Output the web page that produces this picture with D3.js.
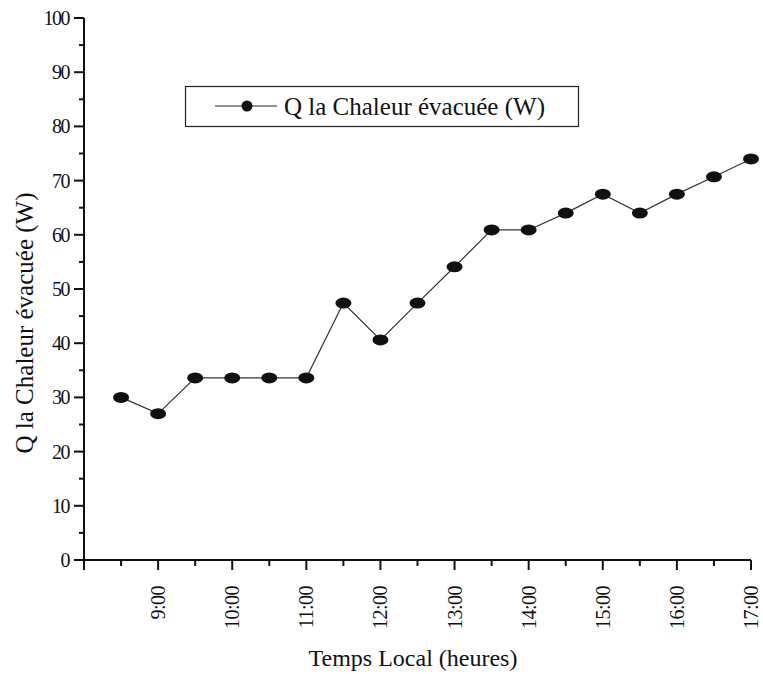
<!DOCTYPE html>
<html>
<head>
<meta charset="utf-8">
<script src="https://cdn.jsdelivr.net/npm/d3@7"></script>
<style>
  body { margin: 0; background: #fff; }
  text { font-family: "Times New Roman", "Liberation Serif", "DejaVu Serif", serif; fill: #111; }
</style>
</head>
<body>
<svg id="chart" width="763" height="674"></svg>
<script>
// hours (decimal) and heat values
var hours = [8.5, 9, 9.5, 10, 10.5, 11, 11.5, 12, 12.5, 13, 13.5, 14, 14.5, 15, 15.5, 16, 16.5, 17];
var chaleur = [30, 27, 33.6, 33.6, 33.6, 33.6, 47.4, 40.6, 47.4, 54.1, 60.9, 60.9, 64, 67.5, 64, 67.5, 70.7, 74];
var xTicks = [9, 10, 11, 12, 13, 14, 15, 16, 17];
var xLabels = ["9:00", "10:00", "11:00", "12:00", "13:00", "14:00", "15:00", "16:00", "17:00"];
var yTicks = [0, 10, 20, 30, 40, 50, 60, 70, 80, 90, 100];
var legendLabel = "Q la Chaleur évacuée (W)";

var svg = d3.select("#chart");

var x = d3.scaleLinear().domain([8, 17]).range([84, 751]);
var y = d3.scaleLinear().domain([0, 100]).range([560, 18]);

// y axis
var yAxis = svg.append("g").attr("transform", "translate(84,0)");
yAxis.append("line")
  .attr("x1", 0).attr("x2", 0)
  .attr("y1", y(100)).attr("y2", y(0))
  .attr("stroke", "#111").attr("stroke-width", 2);
yAxis.selectAll(".major")
  .data(yTicks).enter().append("line")
  .attr("x1", -10).attr("x2", 0)
  .attr("y1", d => y(d)).attr("y2", d => y(d))
  .attr("stroke", "#111").attr("stroke-width", 2);
yAxis.selectAll(".minor")
  .data(d3.range(5, 100, 10)).enter().append("line")
  .attr("x1", -5).attr("x2", 0)
  .attr("y1", d => y(d)).attr("y2", d => y(d))
  .attr("stroke", "#111").attr("stroke-width", 2);
yAxis.selectAll("text")
  .data(yTicks).enter().append("text")
  .attr("x", -15).attr("y", d => y(d))
  .attr("dy", "0.35em")
  .attr("text-anchor", "end")
  .attr("font-size", 20)
  .attr("letter-spacing", -1.5)
  .text(d => d);

// x axis
var xAxis = svg.append("g").attr("transform", "translate(0,560)");
xAxis.append("line")
  .attr("x1", x(8)).attr("x2", x(17))
  .attr("y1", 0).attr("y2", 0)
  .attr("stroke", "#111").attr("stroke-width", 2);
xAxis.selectAll(".major")
  .data([8].concat(xTicks)).enter().append("line")
  .attr("x1", d => x(d)).attr("x2", d => x(d))
  .attr("y1", 0).attr("y2", 10)
  .attr("stroke", "#111").attr("stroke-width", 2);
xAxis.selectAll(".minor")
  .data(d3.range(8.5, 17, 1)).enter().append("line")
  .attr("x1", d => x(d)).attr("x2", d => x(d))
  .attr("y1", 0).attr("y2", 6)
  .attr("stroke", "#111").attr("stroke-width", 2);
xAxis.selectAll("text")
  .data(xTicks).enter().append("text")
  .attr("transform", d => "translate(" + x(d) + ",26) rotate(-90)")
  .attr("dy", "0.35em")
  .attr("text-anchor", "end")
  .attr("font-size", 20)
  .attr("letter-spacing", -0.5)
  .text((d, i) => xLabels[i]);

// titles
svg.append("text")
  .attr("transform", "translate(33,323) rotate(-90)")
  .attr("text-anchor", "middle")
  .attr("font-size", 25)
  .text(legendLabel);
svg.append("text")
  .attr("x", 413).attr("y", 666)
  .attr("text-anchor", "middle")
  .attr("font-size", 24)
  .text("Temps Local (heures)");

// data line
var line = d3.line().x((d, i) => x(hours[i])).y(d => y(d));
svg.append("path")
  .datum(chaleur)
  .attr("d", line)
  .attr("fill", "none")
  .attr("stroke", "#333")
  .attr("stroke-width", 1.2);
svg.selectAll(".pt")
  .data(chaleur).enter().append("ellipse")
  .attr("cx", (d, i) => x(hours[i]))
  .attr("cy", d => y(d))
  .attr("rx", 8).attr("ry", 5.5)
  .attr("fill", "#111");

// legend
var lg = svg.append("g");
lg.append("rect")
  .attr("x", 185.5).attr("y", 86.5)
  .attr("width", 393).attr("height", 40)
  .attr("fill", "none").attr("stroke", "#222").attr("stroke-width", 1.2);
lg.append("line")
  .attr("x1", 215).attr("x2", 277)
  .attr("y1", 106).attr("y2", 106)
  .attr("stroke", "#222").attr("stroke-width", 1.2);
lg.append("circle")
  .attr("cx", 247).attr("cy", 106).attr("r", 5.5)
  .attr("fill", "#111");
lg.append("text")
  .attr("x", 284).attr("y", 106)
  .attr("dy", "0.35em")
  .attr("font-size", 25)
  .text(legendLabel);
</script>
</body>
</html>
